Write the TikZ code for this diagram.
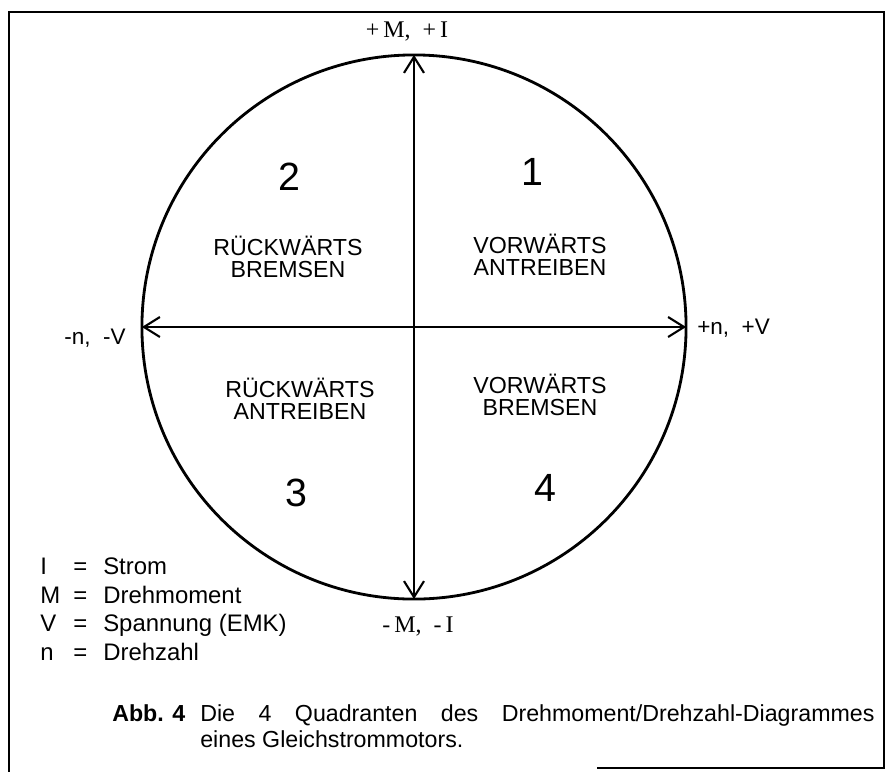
\documentclass[tikz,border=0pt]{standalone}
\usepackage{fontspec}
\setmainfont{Liberation Sans}
\newfontfamily\serifschrift{Liberation Serif}
\usetikzlibrary{arrows.meta, positioning}
\tikzstyle{rahmen}  = [line width=2pt, line cap=rect]
\tikzstyle{kreis}   = [circle, draw, line width=2pt, minimum size=13.6cm,
                       inner sep=0pt, outer sep=0pt]
\tikzstyle{achse}   = [line width=1.5pt,
                       {Straight Barb[length=4mm, width=5mm]}-{Straight Barb[length=4mm, width=5mm]}]
\tikzstyle{nummer}  = [font=\fontsize{28}{28}\selectfont]
\tikzstyle{modus}   = [align=center, inner sep=0pt, anchor=base, font=\fontsize{16.5}{15.6}\selectfont]
\tikzstyle{pol}     = [anchor=base, inner sep=0pt, font=\fontsize{16}{16}\selectfont]
\tikzstyle{polserif}= [anchor=base, inner sep=0pt, font=\serifschrift\fontsize{17}{17}\selectfont]
\tikzstyle{legende} = [anchor=base west, inner sep=0pt, font=\fontsize{17}{17}\selectfont]

\begin{document}
\begin{tikzpicture}[x=0.025cm, y=-0.025cm]
    \useasboundingbox (0,0) rectangle (886,771);
    \draw [rahmen] (9,771) -- (9,12) -- (884,12) -- (884,768) -- (598,768);

    \node (k) [kreis] at (414,327) {};
    \draw [achse] (k.north) -- (k.south);
    \draw [achse] (k.west) -- (k.east);

    \node (oben)   [polserif] at (407,37)  {+\,M,\ \ +\,I};
    \node (unten)  [polserif] at (418,632) {-\,M,\ \ -\,I};
    \node (links)  [pol, anchor=base east] at (126,344) {-n,\ \ -V};
    \node (rechts) [pol, anchor=base west] at (697,334) {+n,\ \ +V};

    \node (n1) [nummer] at (532,172) {1};
    \node (n2) [nummer] at (289,177) {2};
    \node (n3) [nummer] at (296,493) {3};
    \node (n4) [nummer] at (545,488) {4};

    % base = Grundlinie der letzten Zeile
    \node (m1) [modus] at (540,275) {VORWÄRTS\\ANTREIBEN};
    \node (m2) [modus] at (288,277) {RÜCKWÄRTS\\BREMSEN};
    \node (m3) [modus] at (300,419) {RÜCKWÄRTS\\ANTREIBEN};
    \node (m4) [modus] at (540,415) {VORWÄRTS\\BREMSEN};

    % Legende
    \foreach \y/\s/\w in {574/I/Strom, 603/M/Drehmoment, 631/V/Spannung (EMK), 660/n/Drehzahl} {
        \node [legende] at (40,\y)  {\s};
        \node [legende] at (73,\y)  {=};
        \node [legende] at (103,\y) {\w};
    }

    \node (abb) [anchor=base west, inner sep=0pt, font=\fontsize{16.5}{15.5}\selectfont] at (112,721)
        {\begin{tabular}[t]{@{}l@{\hspace{0.375cm}}l@{}}
         \textbf{Abb. 4} & \makebox[16.85cm][s]{Die 4 Quadranten des Drehmoment/Drehzahl-Diagrammes}\\[2pt]
                         & eines Gleichstrommotors.
         \end{tabular}};
\end{tikzpicture}
\end{document}
